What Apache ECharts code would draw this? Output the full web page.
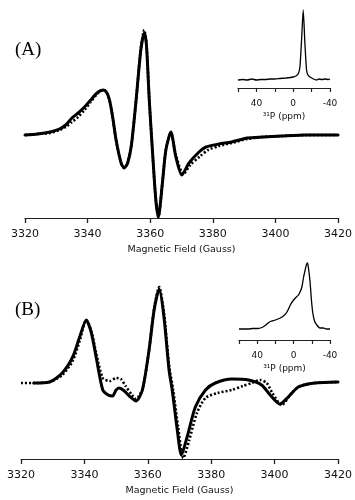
<!DOCTYPE html>
<html><head><meta charset="utf-8">
<script src="https://cdn.jsdelivr.net/npm/echarts@6/dist/echarts.min.js"></script>
<style>html,body{margin:0;padding:0;background:#fff}#c{width:355px;height:500px}</style>
</head><body><div id="c"></div>
<script>
// Panel A: EPR spectra (solid = experiment, dotted = simulation)
var aSolidField = [3320,3324,3328,3331,3333,3335,3337,3339,3341,3343,3345,3346,3347,3348,3349.1,3350.7,3351.7,3352.8,3354,3355.5,3357,3358.1,3358.8,3359.7,3360.7,3361.8,3362.6,3363.9,3365,3366.6,3368.2,3370.1,3372.4,3375.6,3377.8,3382,3386,3391,3396,3402,3410,3420];
var aSolid      = [0,1,3,6,10,17,22,28,35,42,45,43,35,18,-5,-28,-33,-28,-10,35,85,102,90,35,-15,-65,-82,-48,-15,3,-22,-40,-28,-17,-12,-9,-7,-3,-2,-1,0,0];
var aDotField   = [3320,3324,3328,3331,3333,3335,3337,3339,3341,3343,3345,3346,3347,3348,3349.1,3350.7,3351.7,3352.8,3354,3355.5,3357,3358.1,3358.8,3359.7,3360.7,3361.8,3362.6,3363.9,3365,3366.6,3368.2,3370.6,3372.8,3376,3378.5,3382,3386,3391,3396,3402,3410,3420];
var aDot        = [0,1,2,5,8,13,18,25,33,41,45,43,35,18,-5,-28,-33,-28,-10,35,86,105,92,36,-15,-65,-82,-48,-15,2,-20,-39,-30,-21,-15,-11,-8,-4,-2,-1,0,0];
// Panel A inset: 31P NMR
var aNmrPpm = [60,55,50,45,40,35,30,25,20,14.5,8,3,0,-3,-5.4,-7.3,-9.1,-10.9,-12.7,-14.5,-16,-18.2,-22,-25.5,-28,-31,-35,-38,-40];
var aNmr    = [0,0.5,0,1,0,0.5,0.5,1,1,1.5,2,2.5,3,4,6,13,40,70,37,10,5,3,1,0,1,0.5,1,0.5,1];
// Panel B
var bSolidField = [3324,3329,3333,3336.3,3338.5,3340.6,3342.2,3343.7,3345.8,3347.5,3348.9,3350,3351,3352.6,3354.5,3356.3,3358.3,3360.4,3362,3363.6,3365.1,3366.7,3367.7,3369.3,3370.6,3372.4,3375,3378.2,3381.3,3386.5,3391.8,3395.9,3398.6,3401.7,3404.3,3407.5,3412.7,3420];
var bSolid      = [0,1,10,26,46,63,50,26,-7,-12,-13,-7,-5,-8,-14,-18,-7,33,73,94,66,13,-7,-47,-72,-54,-24,-7,0,4,3,-2,-12,-21,-14,-4,0,1];
var bDotField   = [3320,3324,3329,3333,3336.3,3338.5,3340.6,3342.2,3343.7,3345.8,3348,3350,3351.5,3353,3355,3356.3,3358.3,3360.4,3362,3363.6,3365.1,3366.7,3368,3369.6,3371.2,3373,3375.5,3378.2,3382,3386.5,3390,3392.8,3395.4,3397.5,3399.3,3402.2,3405.4,3408,3412.7,3420];
var bDot        = [0,0,1,8,22,42,63,52,30,5,2,5,4,-3,-12,-16,-6,33,75,96,70,18,-7,-45,-75,-58,-30,-15,-10,-7,-3,0,3,0,-10,-22,-10,-3,0,1];
// Panel B inset
var bNmrPpm = [60,55,50,45,40,36.3,32,28,25.4,20,14.5,10,7.3,3,0,-3,-5.4,-7.5,-9.1,-11,-12.7,-14,-15.3,-16.5,-18.2,-19.5,-21.1,-23,-25.5,-29,-32.7,-36,-40];
var bNmr    = [0,0,0,0.5,0.5,1,3,6,7.5,9,11,14,17,25,29,32,34,38,42,52,59,64,66,60,46,30,16,8,4,1,1,0,0];

var fieldTicks = [3320,3340,3360,3380,3400,3420];
var ppmLabels = [40,0,-40];
var fieldTitle = 'Magnetic Field (Gauss)';
var ppmTitle = '³¹P (ppm)';

function zip(xs, ys){ return xs.map(function(x,i){ return [x, ys[i]]; }); }

var chart = echarts.init(document.getElementById('c'), null, {renderer:'canvas'});
var axisCol = '#222';
function mainX(gi){
  return {gridIndex:gi, type:'value', min:3320, max:3420, interval:20,
    axisLine:{show:true, onZero:false, lineStyle:{color:axisCol, width:1}},
    axisTick:{show:true, inside:false, length:5, lineStyle:{color:axisCol, width:1.3}},
    axisLabel:{fontFamily:'DejaVu Sans', fontSize:11, color:'#111', margin:11,
      formatter:function(v){ return fieldTicks.indexOf(v)>=0 ? String(v) : ''; }},
    splitLine:{show:false},
    name:fieldTitle, nameLocation:'middle', nameGap:27,
    nameTextStyle:{fontFamily:'DejaVu Sans', fontSize:9.5, color:'#111'}};
}
function insetX(gi){
  return {gridIndex:gi, type:'value', min:-40, max:60, interval:20, inverse:true,
    axisLine:{show:true, onZero:false, lineStyle:{color:axisCol, width:1}},
    axisTick:{show:true, inside:false, length:4, lineStyle:{color:axisCol, width:1.2}},
    axisLabel:{fontFamily:'DejaVu Sans', fontSize:9, color:'#111', margin:11,
      formatter:function(v){ return ppmLabels.indexOf(v)>=0 ? String(v) : ''; }},
    splitLine:{show:false},
    name:ppmTitle, nameLocation:'middle', nameGap:24,
    nameTextStyle:{fontFamily:'DejaVu Sans', fontSize:9, color:'#111'}};
}
function hiddenY(gi, mn, mx){
  return {gridIndex:gi, type:'value', min:mn, max:mx, show:false};
}
var thick = 3;
function solidSeries(xi, data){
  return {type:'line', xAxisIndex:xi, yAxisIndex:xi, data:data, showSymbol:false,
    smooth:0.25, lineStyle:{color:'#000', width:thick, join:'round', cap:'round'}, z:3};
}
function dotSeries(xi, data){
  return {type:'line', xAxisIndex:xi, yAxisIndex:xi, data:data, showSymbol:false,
    smooth:0.25, lineStyle:{color:'#000', width:2.6, type:[2,2]}, z:4};
}
function nmrSeries(xi, data){
  return {type:'line', xAxisIndex:xi, yAxisIndex:xi, data:data, showSymbol:false,
    smooth:0.2, lineStyle:{color:'#000', width:1.3}};
}

chart.setOption({
  animation:false,
  backgroundColor:'#fff',
  grid:[
    {left:25, right:15, top:30, height:188},
    {left:238, right:25, top:10, height:78},
    {left:21, right:15, top:280, height:179},
    {left:239, right:25, top:262, height:78}
  ],
  xAxis:[mainX(0), insetX(1), mainX(2), insetX(3)],
  yAxis:[hiddenY(0,-83,105), hiddenY(1,-8,70), hiddenY(2,-76,103), hiddenY(3,-11,67)],
  series:[
    solidSeries(0, zip(aSolidField, aSolid)),
    dotSeries(0, zip(aDotField, aDot)),
    nmrSeries(1, zip(aNmrPpm, aNmr)),
    solidSeries(2, zip(bSolidField, bSolid)),
    dotSeries(2, zip(bDotField, bDot)),
    nmrSeries(3, zip(bNmrPpm, bNmr))
  ],
  graphic:[
    {type:'text', left:15, top:41, style:{text:'(A)', font:'19px "Liberation Serif", "DejaVu Serif", serif', fill:'#000'}},
    {type:'text', left:15, top:301, style:{text:'(B)', font:'19px "Liberation Serif", "DejaVu Serif", serif', fill:'#000'}}
  ]
});
</script>
</body></html>
